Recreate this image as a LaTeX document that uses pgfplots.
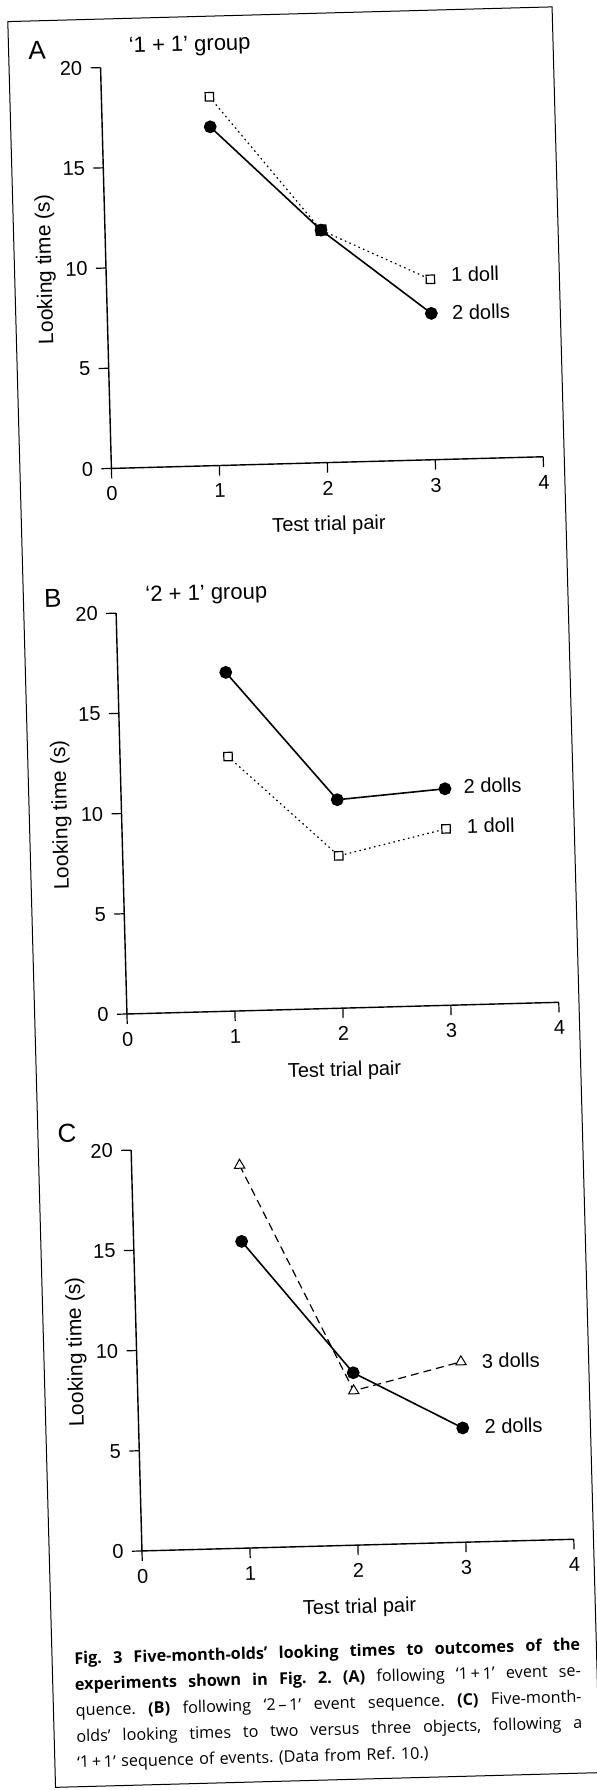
\documentclass[border=0pt]{standalone}
\usepackage{fontspec}
\setmainfont{Liberation Sans}
\newfontfamily\capfont{Open Sans}
\usepackage{pgfplots}
\pgfplotsset{compat=1.18}
\pgfplotsset{
  panel/.style={
    scale only axis, width=216pt, height=200.5pt,
    xmin=0, xmax=4, ymin=0, ymax=20,
    axis lines*=left,
    xtick={0,1,2,3,4}, ytick={0,5,10,15,20},
    tick align=outside, major tick length=5pt,
    tick style={black, line width=0.6pt},
    axis line style={black, line width=0.7pt},
    ticklabel style={font=\fontsize{10}{12}\selectfont},
    /pgf/number format/assume math mode=true,
    xticklabel style={anchor=north, inner sep=0pt, yshift=-4pt},
    yticklabel style={anchor=east, inner sep=0pt, xshift=-4pt},
    xlabel={Test trial pair}, ylabel={Looking time (s)},
    x label style={at={(axis description cs:0.5,-0.157)}, anchor=center, font=\fontsize{10}{12}\selectfont},
    y label style={at={(axis description cs:-0.139,0.5)}, anchor=center, rotate=0, font=\fontsize{10.5}{12}\selectfont},
    clip=false,
  },
  two/.style={black, line width=0.8pt, mark=*, mark size=2.8pt, mark options={solid, fill=black}},
  one/.style={black, line width=0.6pt, dash pattern=on 0.8pt off 1.7pt, mark=square*, mark size=2.1pt, mark options={solid, fill=white, draw=black, line width=0.6pt}},
  three/.style={black, line width=0.6pt, dash pattern=on 4pt off 2.5pt, mark=triangle*, mark size=3pt, mark options={solid, fill=white, draw=black, line width=0.5pt}},
}
\tikzset{
  lab/.style={anchor=west, inner sep=0pt, font=\fontsize{10}{12}\selectfont},
  letter/.style={font=\fontsize{13}{14}\selectfont},
  grp/.style={anchor=west, inner sep=0pt, font=\fontsize{11}{12}\selectfont},
}
\newcommand\J[1]{\makebox[253pt][s]{\frenchspacing\spaceskip=0pt\xspaceskip=0pt\relax #1}}
\begin{document}
\begin{tikzpicture}
\useasboundingbox (0,0) rectangle (298.5pt,-895pt);
\begin{scope}[transform canvas={rotate around={1.55:(149.25pt,-447.5pt)}}]
% figure frame
\draw[black, line width=0.5pt] (15.75pt,-7pt) rectangle (288pt,-890.25pt);

% Panel A
\begin{axis}[panel, at={(61.5pt,-231.75pt)}, anchor=south west]
\addplot[one, mark indices={1,3}] coordinates {(1,18.4) (2,11.6) (3,9.0)};
\addplot[two] coordinates {(1,16.9) (2,11.6) (3,7.3)};
\addplot[only marks, mark=square*, mark size=2.6pt, mark options={fill=black, draw=black}] coordinates {(2,11.6)};
\node[lab] at (axis cs:3.19,9.2) {1 doll};
\node[lab] at (axis cs:3.19,7.3) {2 dolls};
\node[letter] at (rel axis cs:0,1) [xshift=-31.5pt, yshift=9.4pt] {A};
\node[grp] at (rel axis cs:0,1) [xshift=14.25pt, yshift=9.6pt] {‘1 + 1’ group};
\end{axis}

% Panel B
\begin{axis}[panel, at={(61.9pt,-504.65pt)}, anchor=south west]
\addplot[one] coordinates {(1,12.7) (2,7.6) (3,8.8)};
\addplot[two] coordinates {(1,16.9) (2,10.4) (3,10.8)};
\node[lab] at (axis cs:3.17,10.9) {2 dolls};
\node[lab] at (axis cs:3.19,8.9) {1 doll};
\node[letter] at (rel axis cs:0,1) [xshift=-31.4pt, yshift=8.25pt] {B};
\node[grp] at (rel axis cs:0,1) [xshift=14.7pt, yshift=8pt] {‘2 + 1’ group};
\end{axis}

% Panel C
\begin{axis}[panel, at={(62.15pt,-773.25pt)}, anchor=south west]
\addplot[three] coordinates {(1,19.1) (2,7.7) (3,9.0)};
\addplot[two] coordinates {(1,15.3) (2,8.6) (3,5.7)};
\node[lab] at (axis cs:3.19,9.0) {3 dolls};
\node[lab] at (axis cs:3.2,5.75) {2 dolls};
\node[letter] at (rel axis cs:0,1) [xshift=-31.8pt, yshift=9.4pt] {C};
\end{axis}

% caption
\node[anchor=north west, inner sep=0pt, align=left, text width=253pt,
      font=\capfont\fontsize{8.1}{13}\selectfont] at (26.7pt,-822.5pt) {%
\J{\bfseries Fig. 3 Five-month-olds’ looking times to outcomes of the}\\
\J{\textbf{experiments shown in Fig. 2. (A)} following ‘1\,+\,1’ event se-}\\
\J{quence. \textbf{(B)} following ‘2\,–\,1’ event sequence. \textbf{(C)} Five-month-}\\
\J{olds’ looking times to two versus three objects, following a}\\
\frenchspacing ‘1\,+\,1’ sequence of events. (Data from Ref. 10.)};
\end{scope}
\end{tikzpicture}
\end{document}
